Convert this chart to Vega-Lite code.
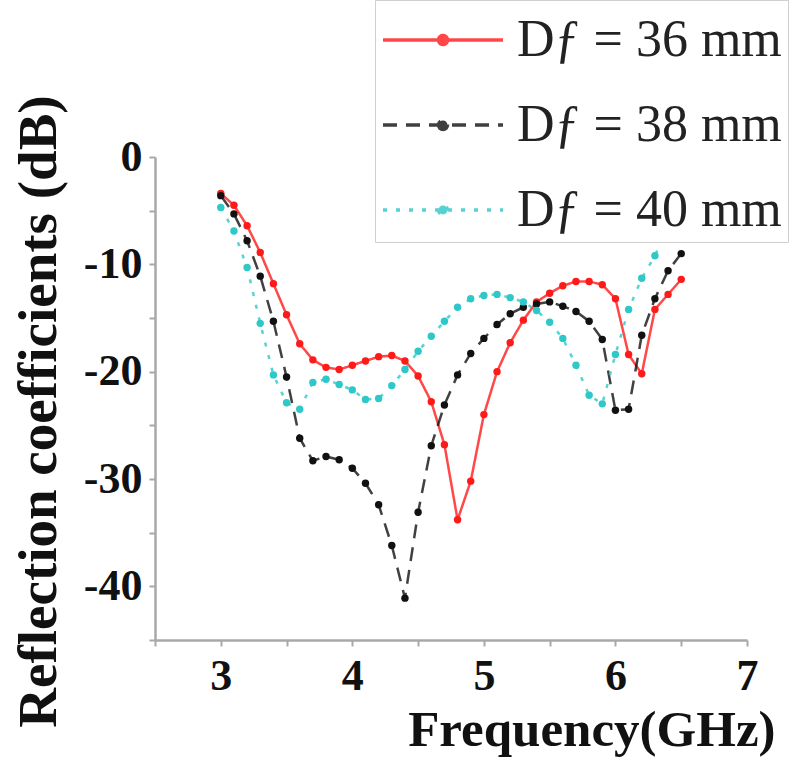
{
  "$schema": "https://vega.github.io/schema/vega-lite/v6.json",
  "autosize": "none",
  "width": 592,
  "height": 483,
  "padding": {"left": 155, "top": 157, "right": 53, "bottom": 120},
  "background": "white",
  "config": {"view": {"stroke": null}, "font": "Liberation Serif"},
  "data": {"values": [
    {"f":3.0,"s":"36 mm","db":-3.4},{"f":3.1,"s":"36 mm","db":-4.5},{"f":3.2,"s":"36 mm","db":-6.4},{"f":3.3,"s":"36 mm","db":-8.9},{"f":3.4,"s":"36 mm","db":-11.8},{"f":3.5,"s":"36 mm","db":-14.7},{"f":3.6,"s":"36 mm","db":-17.4},{"f":3.7,"s":"36 mm","db":-18.9},{"f":3.8,"s":"36 mm","db":-19.6},{"f":3.9,"s":"36 mm","db":-19.8},{"f":4.0,"s":"36 mm","db":-19.4},{"f":4.1,"s":"36 mm","db":-19.0},{"f":4.2,"s":"36 mm","db":-18.6},{"f":4.3,"s":"36 mm","db":-18.5},{"f":4.4,"s":"36 mm","db":-19.0},{"f":4.5,"s":"36 mm","db":-20.4},{"f":4.6,"s":"36 mm","db":-22.8},{"f":4.7,"s":"36 mm","db":-26.8},{"f":4.8,"s":"36 mm","db":-33.8},{"f":4.9,"s":"36 mm","db":-30.2},{"f":5.0,"s":"36 mm","db":-24.0},{"f":5.1,"s":"36 mm","db":-20.0},{"f":5.2,"s":"36 mm","db":-17.3},{"f":5.3,"s":"36 mm","db":-15.2},{"f":5.4,"s":"36 mm","db":-13.5},{"f":5.5,"s":"36 mm","db":-12.7},{"f":5.6,"s":"36 mm","db":-12.0},{"f":5.7,"s":"36 mm","db":-11.6},{"f":5.8,"s":"36 mm","db":-11.6},{"f":5.9,"s":"36 mm","db":-11.9},{"f":6.0,"s":"36 mm","db":-13.2},{"f":6.1,"s":"36 mm","db":-18.4},{"f":6.2,"s":"36 mm","db":-20.2},{"f":6.3,"s":"36 mm","db":-14.2},{"f":6.4,"s":"36 mm","db":-12.8},{"f":6.5,"s":"36 mm","db":-11.4},
    {"f":3.0,"s":"38 mm","db":-3.6},{"f":3.1,"s":"38 mm","db":-5.3},{"f":3.2,"s":"38 mm","db":-7.8},{"f":3.3,"s":"38 mm","db":-11.1},{"f":3.4,"s":"38 mm","db":-15.3},{"f":3.5,"s":"38 mm","db":-20.5},{"f":3.6,"s":"38 mm","db":-26.2},{"f":3.7,"s":"38 mm","db":-28.3},{"f":3.8,"s":"38 mm","db":-27.9},{"f":3.9,"s":"38 mm","db":-28.2},{"f":4.0,"s":"38 mm","db":-29.0},{"f":4.1,"s":"38 mm","db":-30.4},{"f":4.2,"s":"38 mm","db":-32.4},{"f":4.3,"s":"38 mm","db":-36.2},{"f":4.4,"s":"38 mm","db":-41.1},{"f":4.5,"s":"38 mm","db":-33.1},{"f":4.6,"s":"38 mm","db":-26.9},{"f":4.7,"s":"38 mm","db":-23.1},{"f":4.8,"s":"38 mm","db":-20.3},{"f":4.9,"s":"38 mm","db":-18.3},{"f":5.0,"s":"38 mm","db":-16.9},{"f":5.1,"s":"38 mm","db":-15.6},{"f":5.2,"s":"38 mm","db":-14.6},{"f":5.3,"s":"38 mm","db":-14.0},{"f":5.4,"s":"38 mm","db":-13.7},{"f":5.5,"s":"38 mm","db":-13.5},{"f":5.6,"s":"38 mm","db":-13.9},{"f":5.7,"s":"38 mm","db":-14.4},{"f":5.8,"s":"38 mm","db":-15.3},{"f":5.9,"s":"38 mm","db":-17.0},{"f":6.0,"s":"38 mm","db":-23.6},{"f":6.1,"s":"38 mm","db":-23.5},{"f":6.2,"s":"38 mm","db":-16.6},{"f":6.3,"s":"38 mm","db":-13.2},{"f":6.4,"s":"38 mm","db":-10.6},{"f":6.5,"s":"38 mm","db":-9.0},
    {"f":3.0,"s":"40 mm","db":-4.7},{"f":3.1,"s":"40 mm","db":-6.9},{"f":3.2,"s":"40 mm","db":-10.3},{"f":3.3,"s":"40 mm","db":-15.5},{"f":3.4,"s":"40 mm","db":-20.3},{"f":3.5,"s":"40 mm","db":-22.9},{"f":3.6,"s":"40 mm","db":-23.5},{"f":3.7,"s":"40 mm","db":-21.0},{"f":3.8,"s":"40 mm","db":-20.7},{"f":3.9,"s":"40 mm","db":-21.2},{"f":4.0,"s":"40 mm","db":-21.7},{"f":4.1,"s":"40 mm","db":-22.6},{"f":4.2,"s":"40 mm","db":-22.5},{"f":4.3,"s":"40 mm","db":-21.3},{"f":4.4,"s":"40 mm","db":-19.8},{"f":4.5,"s":"40 mm","db":-18.1},{"f":4.6,"s":"40 mm","db":-16.7},{"f":4.7,"s":"40 mm","db":-15.3},{"f":4.8,"s":"40 mm","db":-14.0},{"f":4.9,"s":"40 mm","db":-13.2},{"f":5.0,"s":"40 mm","db":-12.9},{"f":5.1,"s":"40 mm","db":-12.8},{"f":5.2,"s":"40 mm","db":-13.1},{"f":5.3,"s":"40 mm","db":-13.5},{"f":5.4,"s":"40 mm","db":-14.3},{"f":5.5,"s":"40 mm","db":-15.4},{"f":5.6,"s":"40 mm","db":-16.9},{"f":5.7,"s":"40 mm","db":-19.4},{"f":5.8,"s":"40 mm","db":-22.2},{"f":5.9,"s":"40 mm","db":-23.0},{"f":6.0,"s":"40 mm","db":-18.4},{"f":6.1,"s":"40 mm","db":-14.2},{"f":6.2,"s":"40 mm","db":-11.3},{"f":6.3,"s":"40 mm","db":-9.2},{"f":6.4,"s":"40 mm","db":-6.5},{"f":6.5,"s":"40 mm","db":-4.0}
  ]},
  "encoding": {
    "x": {
      "field": "f", "type": "quantitative",
      "scale": {"domain": [2.5, 7], "nice": false, "zero": false},
      "title": "Frequency(GHz)",
      "axis": {
        "values": [2.5, 3, 3.5, 4, 4.5, 5, 5.5, 6, 6.5, 7],
        "labelExpr": "datum.value % 1 == 0 ? '' + datum.value : ''",
        "grid": false,
        "domainColor": "#a8a8a8", "domainWidth": 2.5,
        "tickColor": "#a8a8a8", "tickWidth": 2, "tickSize": 6,
        "labelFont": "Liberation Serif", "labelFontWeight": "bold", "labelFontSize": 44, "labelColor": "#111111",
        "labelPadding": 8, "labelFlush": false, "labelOverlap": false,
        "titleFont": "Liberation Serif", "titleFontWeight": "bold", "titleFontSize": 51, "titleColor": "#111111",
        "titleAnchor": "end", "titleAlign": "right", "titleBaseline": "alphabetic",
        "titleX": 620, "titleY": 105
      }
    },
    "y": {
      "field": "db", "type": "quantitative",
      "scale": {"domain": [-45, 0], "nice": false},
      "title": "Reflection coefficients (dB)",
      "axis": {
        "values": [-45, -40, -35, -30, -25, -20, -15, -10, -5, 0],
        "labelExpr": "datum.value % 10 == 0 ? '' + datum.value : ''",
        "grid": false,
        "domainColor": "#a8a8a8", "domainWidth": 2.5,
        "tickColor": "#a8a8a8", "tickWidth": 2, "tickSize": 6,
        "labelFont": "Liberation Serif", "labelFontWeight": "bold", "labelFontSize": 44, "labelColor": "#111111",
        "labelPadding": 7, "labelOverlap": false, "labelFlush": false,
        "titleFont": "Liberation Serif", "titleFontWeight": "bold", "titleFontSize": 55, "titleColor": "#111111",
        "titleX": -88, "titleY": 254
      }
    },
    "color": {
      "field": "s", "type": "nominal",
      "scale": {"domain": ["36 mm", "38 mm", "40 mm"], "range": ["#ff1a1a", "#111111", "#2ec8c8"]},
      "legend": {
        "title": null, "orient": "none", "legendX": 220, "legendY": -157,
        "symbolType": "M-1.875,0H1.875M-0.14,0A0.14,0.14,0,1,0,0.14,0A0.14,0.14,0,1,0,-0.14,0",
        "symbolSize": 4096, "symbolStrokeWidth": 3.5, "symbolOffset": 28,
        "labelFont": "Liberation Serif", "labelFontSize": 52, "labelColor": "#222222",
        "labelExpr": "'Dƒ = ' + datum.value", "labelLimit": 0, "labelOffset": 40,
        "padding": 6, "rowPadding": 25,
        "strokeColor": "#cfcfcf", "fillColor": "white",
        "encode": {
          "symbols": {"update": {"fill": {"scale": "color", "field": "value"}, "opacity": {"value": 1}}},
          "legend": {"update": {"strokeWidth": {"value": 3}}}
        }
      }
    },
    "strokeDash": {
      "field": "s", "type": "nominal",
      "scale": {"domain": ["36 mm", "38 mm", "40 mm"], "range": [[1, 0], [14, 9], [4, 9]]},
      "legend": {
        "title": null, "orient": "none", "legendX": 220, "legendY": -157,
        "symbolType": "M-1.875,0H1.875M-0.14,0A0.14,0.14,0,1,0,0.14,0A0.14,0.14,0,1,0,-0.14,0",
        "symbolSize": 4096, "symbolStrokeWidth": 3.5, "symbolOffset": 28,
        "labelFont": "Liberation Serif", "labelFontSize": 52, "labelColor": "#222222",
        "labelExpr": "'Dƒ = ' + datum.value", "labelLimit": 0, "labelOffset": 40,
        "padding": 6, "rowPadding": 25,
        "strokeColor": "#cfcfcf", "fillColor": "white"
      }
    }
  },
  "layer": [
    {"mark": {"type": "line", "strokeWidth": 2.5, "opacity": 0.8}},
    {"mark": {"type": "point", "filled": true, "size": 55, "opacity": 1}}
  ]
}
